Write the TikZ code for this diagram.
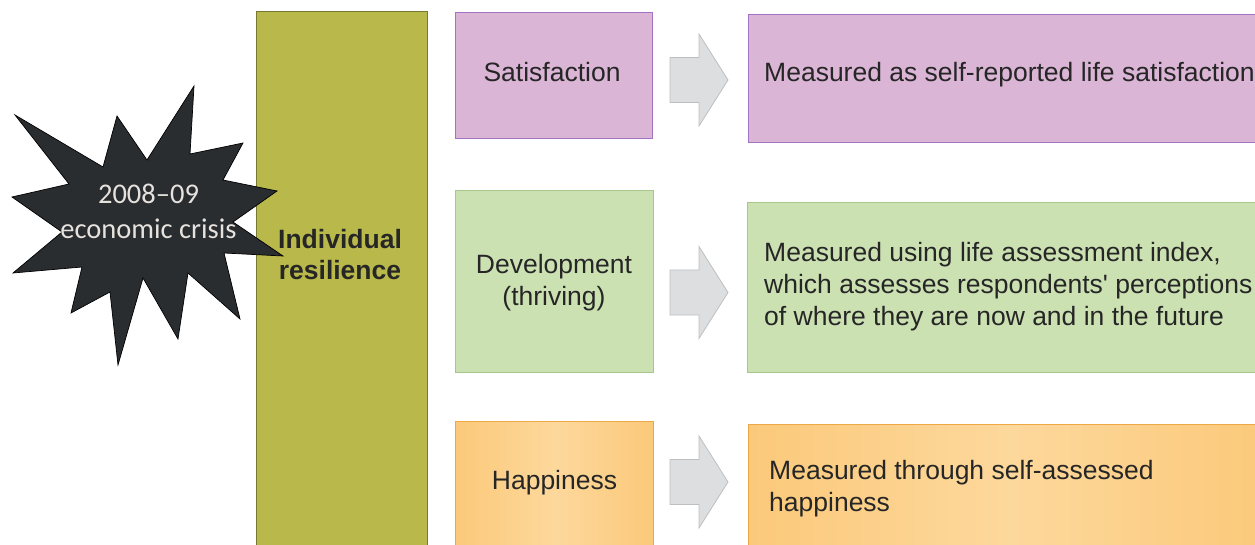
\documentclass[tikz,border=0pt]{standalone}
\usepackage{fontspec}
\setmainfont{Liberation Sans}
\newfontfamily\burstfont{Carlito}
\definecolor{ink}{HTML}{262626}
\definecolor{olivefill}{HTML}{B9B84B}
\definecolor{oliveline}{HTML}{787830}
\definecolor{pinkfill}{HTML}{DAB5D5}
\definecolor{pinkline}{HTML}{A573C4}
\definecolor{greenfill}{HTML}{CCE1B2}
\definecolor{greenline}{HTML}{A9C78C}
\definecolor{orangeedge}{HTML}{FBC97A}
\definecolor{orangemid}{HTML}{FDD89C}
\definecolor{orangeline}{HTML}{EEA845}
\definecolor{arrowfill}{HTML}{DCDEDF}
\definecolor{arrowline}{HTML}{BDBFC1}
\definecolor{burstfill}{HTML}{2A2D30}
\definecolor{bursttext}{HTML}{E6E2DE}
\begin{document}
\begin{tikzpicture}[x=1pt,y=-1pt,
  box/.style={draw, line width=1pt, inner sep=0pt, anchor=north west},
  txt/.style={font=\fontsize{26.5}{32}\selectfont, text=ink, inner sep=0pt},
  boldtxt/.style={font=\fontsize{26.5}{31}\selectfont\bfseries, text=ink, inner sep=0pt},
  blockarrow/.pic={
    \draw[fill=arrowfill, draw=arrowline, line width=0.8pt, line join=miter]
      (0,-22.5) -- (29,-22.5) -- (29,-46) -- (58,0) -- (29,46) -- (29,22.5) -- (0,22.5) -- cycle;
  },
]
\useasboundingbox (0,0) rectangle (1255,545);
\clip (0,0) rectangle (1255,545);

% central column
\node[box, fill=olivefill, draw=oliveline, minimum width=171pt, minimum height=560pt] (col) at (256,11) {};
\node[boldtxt, align=center] (res) at (340,255) {Individual\\resilience};

% left-hand measures
\node[box, fill=pinkfill, draw=pinkline, minimum width=197pt, minimum height=126pt] (sat) at (455,12) {};
\node[box, fill=greenfill, draw=greenline, minimum width=198pt, minimum height=182pt] (dev) at (455,190) {};
\node[box, left color=orangeedge, right color=orangeedge, middle color=orangemid, draw=orangeline, minimum width=198pt, minimum height=150pt] (hap) at (455,421) {};
\node[txt] (satl) at (552,72) {Satisfaction};
\node[txt, align=center] (devl) at (554,283) {Development\\(thriving)};
\node[txt] (hapl) at (554.5,482.5) {Happiness};

% descriptions
\node[box, fill=pinkfill, draw=pinkline, minimum width=520pt, minimum height=128pt] (satd) at (748,14) {};
\node[box, fill=greenfill, draw=greenline, minimum width=520pt, minimum height=170pt] (devd) at (747,202) {};
\node[box, left color=orangeedge, right color=orangeedge, middle color=orangemid, draw=orangeline, minimum width=520pt, minimum height=150pt] (hapd) at (748,424) {};
\node[txt, anchor=west] (satdl) at (764,74.5) {Measured as self-reported life satisfaction};
\node[txt, anchor=west, align=left] (devdl) at (764,287) {Measured using life assessment index,\\which assesses respondents\textquotesingle{} perceptions\\of where they are now and in the future};
\node[txt, anchor=west, align=left] (hapdl) at (769,488.5) {Measured through self-assessed\\happiness};

% block arrows between the columns
\pic at (670,80) {blockarrow};
\pic at (670,292.5) {blockarrow};
\pic at (670,482) {blockarrow};

% crisis starburst
\draw[fill=burstfill, draw=black, line width=0.7pt, line join=miter]
  (15,115) -- (103,167) -- (117,116) -- (147,160) -- (194,86) -- (190,154)
  -- (243,143) -- (223,180) -- (277,191) -- (233,222) -- (283,256) -- (224,253)
  -- (240,319) -- (188,273) -- (178,339) -- (143,278) -- (118,365) -- (110,292)
  -- (71,313) -- (82,267) -- (13,273) -- (62,232) -- (12,197) -- (69,184) -- cycle;
\node[font=\burstfont\fontsize{28.5}{35}\selectfont, text=bursttext, align=center, inner sep=0pt] (crisis) at (148.5,211) {2008–09\\economic crisis};
\end{tikzpicture}
\end{document}
